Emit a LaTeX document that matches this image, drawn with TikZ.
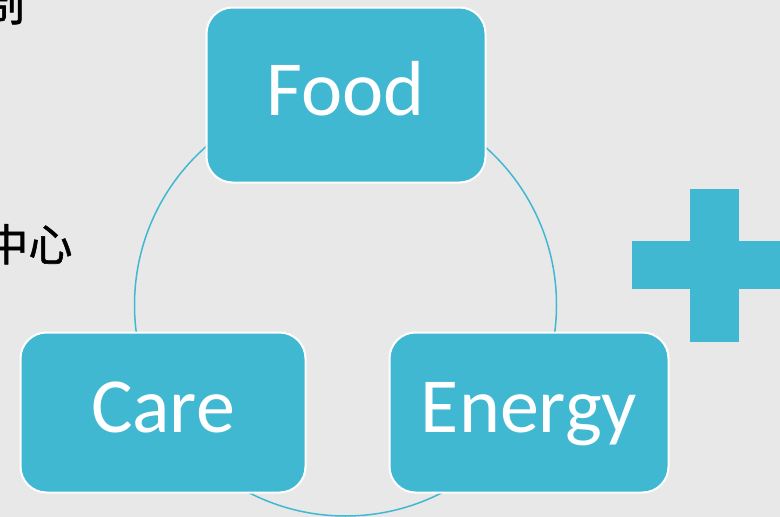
\documentclass[tikz,border=0pt]{standalone}
\usepackage{fontspec}
\setmainfont{Carlito}
\newfontfamily\cjk[FakeBold=1.2]{Noto Sans CJK SC}
\usepackage{tikz}
\usetikzlibrary{positioning}
\definecolor{boxcyan}{RGB}{65,184,210}
\definecolor{bggray}{RGB}{232,232,232}
\tikzset{
    topicbox/.style={draw=white, line width=2pt, fill=boxcyan, rounded corners=26pt,
        text=white, font=\fontsize{78}{90}\selectfont, inner sep=0pt,
        text height=50pt, text depth=10pt},
    sidetext/.style={anchor=base east, font=\cjk\fontsize{44}{50}\selectfont}
}

\begin{document}
\begin{tikzpicture}[x=1pt,y=-1pt]
        % Page and background
        \useasboundingbox (0,0) rectangle (780,517);
        \fill[bggray] (0,0) rectangle (780,517);
        % Ring behind the boxes
        \coordinate (hub) at (345.5,305);
        \draw[boxcyan, line width=1.5pt] (hub) circle[radius=211];
        % Boxes
        \node[topicbox, minimum width=279pt, minimum height=175pt] (food) at (346,95) {Food};
        \node[topicbox, minimum width=285pt, minimum height=160pt] (care) at (163,412.5) {Care};
        \node[topicbox, minimum width=279pt, minimum height=160pt] (energy) at (529,412.5) {Energy};
        % Plus sign
        \fill[boxcyan] (690,189) rectangle (739,342);
        \fill[boxcyan] (632,241) rectangle (780,289);
        % Cut-off text at the left
        \node[sidetext] (mech) at (28,21) {制};
        \node[sidetext] (centre) at (76,261) {中心};
    \end{tikzpicture}
\end{document}
